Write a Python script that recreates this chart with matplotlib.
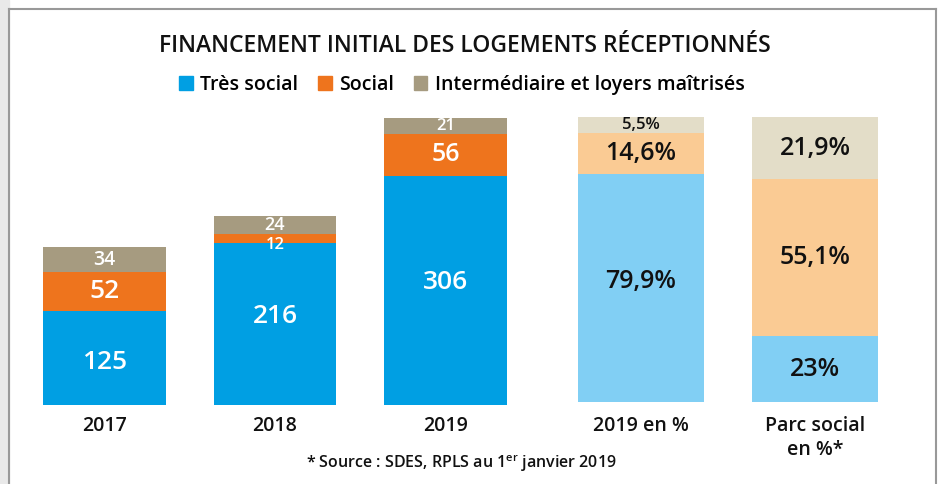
import numpy as np
import matplotlib.pyplot as plt
from matplotlib.patches import Patch, Rectangle

# data
annees = ['2017', '2018', '2019']
tres_social = [125, 216, 306]
social = [52, 12, 56]
intermediaire = [34, 24, 21]

pct_labels = ['2019 en %', 'Parc social\nen %*']
pct_tres_social = [79.9, 23.0]
pct_social = [14.6, 55.1]
pct_inter = [5.5, 21.9]
pct_txt_ts = ['79,9%', '23%']
pct_txt_s = ['14,6%', '55,1%']
pct_txt_i = ['5,5%', '21,9%']

c_bleu, c_orange, c_gris = '#009FE3', '#EE741D', '#A69B80'
c_bleu_l, c_orange_l, c_gris_l = '#81CFF4', '#FACB94', '#E3DDC8'

plt.rcParams['font.family'] = ['Open Sans', 'DejaVu Sans']
plt.rcParams['font.weight'] = 'semibold'
plt.rcParams['mathtext.default'] = 'regular'

W, H = 942, 484
fig = plt.figure(figsize=(W/100, H/100), dpi=100)

def fx(px): return px / W
def fy(py): return 1 - py / H

# frame
fig.patches.append(Rectangle((0, 0), fx(8.5), 1, transform=fig.transFigure,
                             color='#E9E9E9', zorder=0))
fig.add_artist(plt.Line2D([fx(8.5), fx(8.5)], [0, fy(9)], color='#999999', lw=1.5))
fig.add_artist(plt.Line2D([fx(8.5), fx(935.5)], [fy(9), fy(9)], color='#999999', lw=1.5))
fig.add_artist(plt.Line2D([fx(935.5), fx(935.5)], [0, fy(9)], color='#999999', lw=1.5))

fig.text(fx(465), fy(46), 'FINANCEMENT INITIAL DES LOGEMENTS RÉCEPTIONNÉS',
         ha='center', va='center', fontsize=16.5, color='#111111')

handles = [Patch(color=c_bleu, label='Très social'),
           Patch(color=c_orange, label='Social'),
           Patch(color=c_gris, label='Intermédiaire et loyers maîtrisés')]
fig.legend(handles=handles, loc='center', bbox_to_anchor=(fx(462), fy(85)), ncol=3,
           frameon=False, fontsize=14, handlelength=0.7, handleheight=0.7,
           handletextpad=0.4, columnspacing=1.0)

# count bars
ax1 = fig.add_axes([fx(19.25), fy(405), fx(511.5), 295 / H])
x = np.arange(len(annees))
w = 0.721
ax1.bar(x, tres_social, w, color=c_bleu)
ax1.bar(x, social, w, bottom=tres_social, color=c_orange)
bot3 = np.array(tres_social) + np.array(social)
ax1.bar(x, intermediaire, w, bottom=bot3, color=c_gris)
ax1.set_xlim(-0.5, 2.5)
ax1.set_ylim(0, 394)

size_ts = [19, 19, 19]
size_s = [19, 12, 18]
size_i = [14, 13, 12]
off_ts = [-4, 8, 8]
off_s = [0, -6, 0]
for i in range(len(annees)):
    ax1.annotate(str(tres_social[i]), (x[i], tres_social[i] / 2), xytext=(0, off_ts[i]),
                 textcoords='offset pixels', ha='center', va='center',
                 color='white', fontsize=size_ts[i])
    ax1.annotate(str(social[i]), (x[i], tres_social[i] + social[i] / 2), xytext=(0, off_s[i]),
                 textcoords='offset pixels', ha='center', va='center',
                 color='white', fontsize=size_s[i])
    ax1.annotate(str(intermediaire[i]), (x[i], bot3[i] + intermediaire[i] / 2),
                 ha='center', va='center', color='white', fontsize=size_i[i])

# percent bars
ax2 = fig.add_axes([fx(554), fy(402), fx(348), 292 / H])
x2 = np.arange(len(pct_labels))
w2 = 0.724
ax2.bar(x2, pct_tres_social, w2, color=c_bleu_l)
ax2.bar(x2, pct_social, w2, bottom=pct_tres_social, color=c_orange_l)
bot_p = np.array(pct_tres_social) + np.array(pct_social)
ax2.bar(x2, pct_inter, w2, bottom=bot_p, color=c_gris_l)
ax2.set_xlim(-0.5, 1.5)
ax2.set_ylim(0, 292 / 2.85)

psize_i = [12, 18]
for i in range(len(pct_labels)):
    ax2.annotate(pct_txt_ts[i], (x2[i], pct_tres_social[i] / 2), xytext=(0, 7 if i == 0 else 0),
                 textcoords='offset pixels', ha='center', va='center',
                 color='#111111', fontsize=18)
    ax2.annotate(pct_txt_s[i], (x2[i], pct_tres_social[i] + pct_social[i] / 2),
                 ha='center', va='center', color='#111111', fontsize=18)
    ax2.annotate(pct_txt_i[i], (x2[i], bot_p[i] + pct_inter[i] / 2),
                 ha='center', va='center', color='#111111', fontsize=psize_i[i])

for ax, pos, labs, pad in [(ax1, x, annees, 8), (ax2, x2, pct_labels, 10)]:
    ax.set_xticks(pos)
    ax.set_xticklabels(labs, fontsize=14, color='#111111', linespacing=1.25)
    ax.tick_params(axis='x', length=0, pad=pad)
    ax.set_yticks([])
    for s in ax.spines.values():
        s.set_visible(False)
    ax.patch.set_alpha(0)

fig.text(fx(461), fy(464), '* Source : SDES, RPLS au 1$^{er}$ janvier 2019',
         ha='center', va='center', fontsize=11.5, color='#111111')

fig.savefig('out.png', dpi=100)
